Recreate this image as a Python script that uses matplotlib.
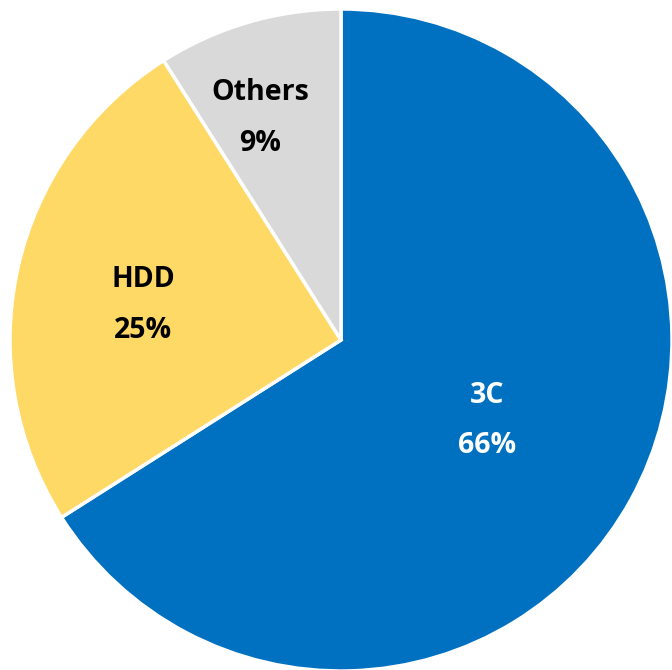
import matplotlib
matplotlib.use("Agg")
import matplotlib.pyplot as plt
import numpy as np

categories = ["3C", "HDD", "Others"]
values = [66, 25, 9]
colors = ["#0070C0", "#FFD966", "#D9D9D9"]
text_colors = ["white", "black", "black"]
label_radius = [0.504, 0.607, 0.714]
label_angle_offset = [0.0, 2.6, 3.8]

fig = plt.figure(figsize=(6.72, 6.70), dpi=100)
ax = fig.add_axes([10/672, -1/670, 662/672, 662/670])
wedges, _ = ax.pie(values, colors=colors, startangle=90, counterclock=False,
                   wedgeprops=dict(edgecolor="white", linewidth=2.5))
ax.set_aspect("equal")
ax.set_xlim(-1, 1)
ax.set_ylim(-1, 1)

for w, cat, val, tc, r, da in zip(wedges, categories, values, text_colors,
                                  label_radius, label_angle_offset):
    ang = np.deg2rad((w.theta1 + w.theta2) / 2 + da)
    x, y = r * np.cos(ang), r * np.sin(ang)
    ax.text(x, y, f"{cat}\n{val}%", ha="center", va="center", color=tc,
            fontsize=20.5, fontweight="bold", family=["Open Sans", "DejaVu Sans"],
            linespacing=1.97)

fig.savefig("out.png", dpi=100)
